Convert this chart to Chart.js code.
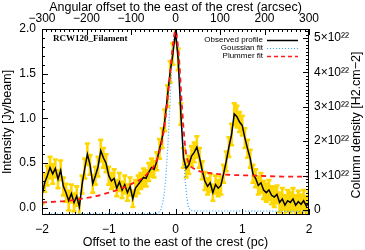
<!DOCTYPE html>
<html>
<head>
<meta charset="utf-8">
<script src="https://cdn.jsdelivr.net/npm/chart.js@4.4.1/dist/chart.umd.min.js"></script>
<style>
html,body{margin:0;padding:0;background:#fff;}
#wrap{width:365px;height:250px;}
</style>
</head>
<body>
<div id="wrap"><canvas id="c" width="365" height="250"></canvas></div>
<script>
// ---- data ----
const offsetPc = [-2.00,-1.96,-1.92,-1.88,-1.84,-1.80,-1.76,-1.72,-1.68,-1.64,-1.60,-1.56,-1.52,-1.48,-1.44,-1.40,-1.36,-1.32,-1.28,-1.24,-1.20,-1.16,-1.12,-1.08,-1.04,-1.00,-0.96,-0.92,-0.88,-0.84,-0.80,-0.76,-0.72,-0.68,-0.64,-0.60,-0.56,-0.52,-0.48,-0.44,-0.40,-0.36,-0.32,-0.28,-0.24,-0.20,-0.16,-0.12,-0.08,-0.04,0.00,0.04,0.08,0.12,0.16,0.20,0.24,0.28,0.32,0.36,0.40,0.44,0.48,0.52,0.56,0.60,0.64,0.68,0.72,0.76,0.80,0.84,0.88,0.92,0.96,1.00,1.04,1.08,1.12,1.16,1.20,1.24,1.28,1.32,1.36,1.40,1.44,1.48,1.52,1.56,1.60,1.64,1.68,1.72,1.76,1.80,1.84,1.88,1.92,1.96,2.00];
const observed = [0.14,0.28,0.36,0.45,0.38,0.44,0.32,0.42,0.24,0.17,0.08,0.16,0.06,0.13,0.01,0.26,0.44,0.60,0.48,0.27,0.36,0.46,0.64,0.56,0.50,0.36,0.30,0.33,0.22,0.29,0.20,0.26,0.17,0.24,0.10,0.22,0.26,0.30,0.34,0.33,0.40,0.45,0.43,0.52,0.66,0.78,0.98,1.25,1.52,1.72,1.97,1.66,1.05,0.56,0.44,0.48,0.58,0.62,0.68,0.56,0.42,0.30,0.24,0.28,0.17,0.26,0.22,0.25,0.38,0.52,0.68,0.82,1.05,1.02,0.96,0.92,0.78,0.66,0.55,0.38,0.33,0.25,0.28,0.20,0.17,0.20,0.14,0.12,0.15,0.06,0.10,0.03,0.08,0.06,0.10,0.03,0.07,0.04,0.08,0.02,0.06];
const errors = [0.10,0.10,0.11,0.12,0.11,0.10,0.10,0.11,0.10,0.10,0.11,0.10,0.10,0.11,0.10,0.10,0.11,0.12,0.11,0.10,0.10,0.11,0.12,0.11,0.10,0.10,0.09,0.10,0.09,0.10,0.09,0.10,0.09,0.10,0.09,0.09,0.10,0.09,0.10,0.09,0.10,0.10,0.09,0.10,0.11,0.11,0.12,0.12,0.12,0.12,0.13,0.12,0.12,0.11,0.10,0.10,0.11,0.11,0.12,0.11,0.10,0.10,0.09,0.10,0.09,0.10,0.09,0.10,0.10,0.11,0.11,0.12,0.12,0.12,0.11,0.11,0.11,0.10,0.10,0.10,0.10,0.10,0.11,0.10,0.10,0.11,0.10,0.11,0.10,0.11,0.12,0.11,0.12,0.11,0.12,0.11,0.12,0.11,0.12,0.11,0.12];
const gaussX = [-2.0,-0.5,-0.3,-0.25,-0.2,-0.15,-0.1,-0.05,0.0,0.05,0.1,0.15,0.2,0.25,0.3,0.5,2.0];
const gaussY = [-0.07,-0.066,-0.064,-0.05,0.03,0.30,0.90,1.65,1.97,1.65,0.88,0.27,0.0,-0.03,-0.035,-0.035,-0.04];
const plumX = [-2.0,-1.6,-1.2,-1.0,-0.8,-0.6,-0.5,-0.4,-0.3,-0.2,-0.15,-0.1,-0.05,0.0,0.05,0.1,0.15,0.2,0.3,0.5,0.8,1.2,1.6,2.0];
const plumY = [0.06,0.08,0.13,0.17,0.22,0.29,0.33,0.40,0.50,0.75,1.00,1.35,1.75,1.98,1.70,1.10,0.65,0.50,0.43,0.39,0.37,0.36,0.35,0.35];
const bottomTicks = [-2,-1,0,1,2];
const topTicks = [-300,-200,-100,0,100,200,300];
const leftTicks = [0.0,0.5,1.0,1.5,2.0];
const rightTicks = [0,1,2,3,4,5];
const legendLabels = ['Observed profile','Goussian fit','Plummer fit'];
const regionLabel = 'RCW120_Filament';

// ---- helpers ----
const FONT = 'Liberation Sans, Arial, Helvetica, sans-serif';
const minus = v => (v < 0 ? '\u2212' + Math.abs(v) : String(v));
const sup = {'0':'\u2070','1':'\u00B9','2':'\u00B2','3':'\u00B3','4':'\u2074','5':'\u2075','6':'\u2076','7':'\u2077','8':'\u2078','9':'\u2079'};
const fixTicks = arr => (s => { s.ticks = arr.map(v => ({value: v})); });

const obsPts = offsetPc.map((x, i) => ({x, y: observed[i]}));
const gaussPts = gaussX.map((x, i) => ({x, y: gaussY[i]}));
const plumPts = plumX.map((x, i) => ({x, y: plumY[i]}));

const errorBars = {
  id: 'errorBars',
  beforeDatasetsDraw(chart) {
    const {ctx, chartArea: a, scales: {x, y}} = chart;
    ctx.save();
    ctx.beginPath(); ctx.rect(a.left, a.top, a.right - a.left, a.bottom - a.top); ctx.clip();
    ctx.strokeStyle = '#FFD700'; ctx.lineWidth = 2.6;
    ctx.beginPath();
    offsetPc.forEach((xv, i) => {
      const px = x.getPixelForValue(xv);
      const y1 = y.getPixelForValue(observed[i] - errors[i]);
      const y2 = y.getPixelForValue(observed[i] + errors[i]);
      ctx.moveTo(px, y1); ctx.lineTo(px, y2);
      ctx.moveTo(px - 2.5, y1); ctx.lineTo(px + 2.5, y1);
      ctx.moveTo(px - 2.5, y2); ctx.lineTo(px + 2.5, y2);
    });
    ctx.stroke();
    ctx.restore();
  }
};

const frameTicks = {
  id: 'frameTicks',
  afterDraw(chart) {
    const {ctx, chartArea: a, scales} = chart;
    ctx.save();
    ctx.strokeStyle = '#000'; ctx.lineWidth = 1;
    ctx.strokeRect(a.left + 0.5, a.top + 0.5, a.right - a.left - 1, a.bottom - a.top - 1);
    ctx.beginPath();
    const vt = (s, lo, step, n, major, edge, dir) => {
      for (let i = 0; i <= n; i++) {
        const v = lo + i * step;
        const len = (i % major === 0) ? 6 : 3;
        const p = Math.round(s.getPixelForValue(v)) + 0.5;
        ctx.moveTo(p, edge); ctx.lineTo(p, edge + dir * len);
      }
    };
    const ht = (s, lo, step, n, major, edge, dir) => {
      for (let i = 0; i <= n; i++) {
        const v = lo + i * step;
        const len = (i % major === 0) ? 6 : 3;
        const p = Math.round(s.getPixelForValue(v)) + 0.5;
        if (p < a.top || p > a.bottom) continue;
        ctx.moveTo(edge, p); ctx.lineTo(edge + dir * len, p);
      }
    };
    vt(scales.x, -2, 0.1, 40, 10, a.bottom, -1);
    vt(scales.x2, -300, 10, 60, 10, a.top, 1);
    ht(scales.y, 0, 0.1, 20, 5, a.left, 1);
    ht(scales.y2, 0, 0.1, 52, 10, a.right, -1);
    ctx.stroke();

    // legend (text then line sample)
    ctx.font = '8px ' + FONT; ctx.fillStyle = '#000';
    ctx.textAlign = 'right'; ctx.textBaseline = 'middle';
    const rows = [40, 48, 56];
    const styles = [
      {c: '#000', w: 1.5, d: []},
      {c: '#33A6FF', w: 1.2, d: [1, 2]},
      {c: '#FF1A1A', w: 1.6, d: [4, 3]}
    ];
    legendLabels.forEach((t, i) => {
      ctx.fillText(t, 263, rows[i]);
      ctx.save();
      ctx.strokeStyle = styles[i].c; ctx.lineWidth = styles[i].w; ctx.setLineDash(styles[i].d);
      ctx.beginPath(); ctx.moveTo(267, rows[i] + 0.5); ctx.lineTo(298, rows[i] + 0.5); ctx.stroke();
      ctx.restore();
    });
    // region label
    ctx.font = 'bold 9px Liberation Serif, Times New Roman, serif';
    ctx.textAlign = 'left';
    ctx.fillText(regionLabel, 53, 39);
    // right axis title, reading bottom to top
    ctx.font = '12.5px ' + FONT;
    ctx.translate(357, (a.top + a.bottom) / 2 + 3);
    ctx.rotate(-Math.PI / 2);
    ctx.textAlign = 'center';
    ctx.fillText('Column density [H2.cm\u22122]', 0, 0);
    ctx.restore();
  }
};

const tickFont = {family: FONT, size: 12};
const titleFont = {family: FONT, size: 12.5};

new Chart(document.getElementById('c'), {
  type: 'line',
  data: {
    datasets: [
      {label: legendLabels[0], data: obsPts, borderColor: '#000', borderWidth: 1.5, pointRadius: 0, tension: 0, xAxisID: 'x', yAxisID: 'y', order: 1},
      {label: legendLabels[1], data: gaussPts, borderColor: '#33A6FF', borderWidth: 1.2, borderDash: [1, 2], pointRadius: 0, cubicInterpolationMode: 'monotone', xAxisID: 'x', yAxisID: 'y', order: 2},
      {label: legendLabels[2], data: plumPts, borderColor: '#FF1A1A', borderWidth: 1.8, borderDash: [5, 4], pointRadius: 0, cubicInterpolationMode: 'monotone', xAxisID: 'x', yAxisID: 'y', order: 0}
    ]
  },
  options: {
    responsive: false,
    devicePixelRatio: 1,
    animation: false,
    layout: {padding: 0},
    plugins: {legend: {display: false}, tooltip: {enabled: false}},
    scales: {
      x: {
        type: 'linear', position: 'bottom', min: -2, max: 2,
        afterBuildTicks: fixTicks(bottomTicks),
        afterFit: s => { s.height = 35; },
        grid: {display: false, drawTicks: false}, border: {display: false},
        ticks: {callback: v => minus(v), font: tickFont, color: '#000', padding: 7, maxRotation: 0, autoSkip: false},
        title: {display: true, text: 'Offset to the east of the crest (pc)', font: titleFont, color: '#000', padding: {top: 0, bottom: 0}}
      },
      x2: {
        type: 'linear', position: 'top', min: -300, max: 300,
        afterBuildTicks: fixTicks(topTicks),
        afterFit: s => { s.height = 29; },
        grid: {display: false, drawTicks: false}, border: {display: false},
        ticks: {callback: v => minus(v), font: tickFont, color: '#000', padding: 3, maxRotation: 0, autoSkip: false},
        title: {display: true, text: 'Angular offset to the east of the crest (arcsec)', font: titleFont, color: '#000', padding: {top: 0, bottom: 0}}
      },
      y: {
        type: 'linear', position: 'left', min: -0.08, max: 2.0,
        afterBuildTicks: fixTicks(leftTicks),
        afterFit: s => { s.width = 42; },
        grid: {display: false, drawTicks: false}, border: {display: false},
        ticks: {callback: v => v.toFixed(1), font: tickFont, color: '#000', padding: 6, autoSkip: false},
        title: {display: true, text: 'Intensity [Jy/beam]', font: titleFont, color: '#000', padding: {top: 0, bottom: 0}}
      },
      y2: {
        type: 'linear', position: 'right', min: -0.145, max: 5.26,
        afterBuildTicks: fixTicks(rightTicks),
        afterFit: s => { s.width = 56; },
        grid: {display: false, drawTicks: false}, border: {display: false},
        ticks: {callback: v => (v === 0 ? '0' : v + '\u00D710' + sup['2'] + sup['2']), font: tickFont, color: '#000', padding: 5, autoSkip: false},
        title: {display: false}
      }
    }
  },
  plugins: [errorBars, frameTicks]
});
</script>
</body>
</html>
